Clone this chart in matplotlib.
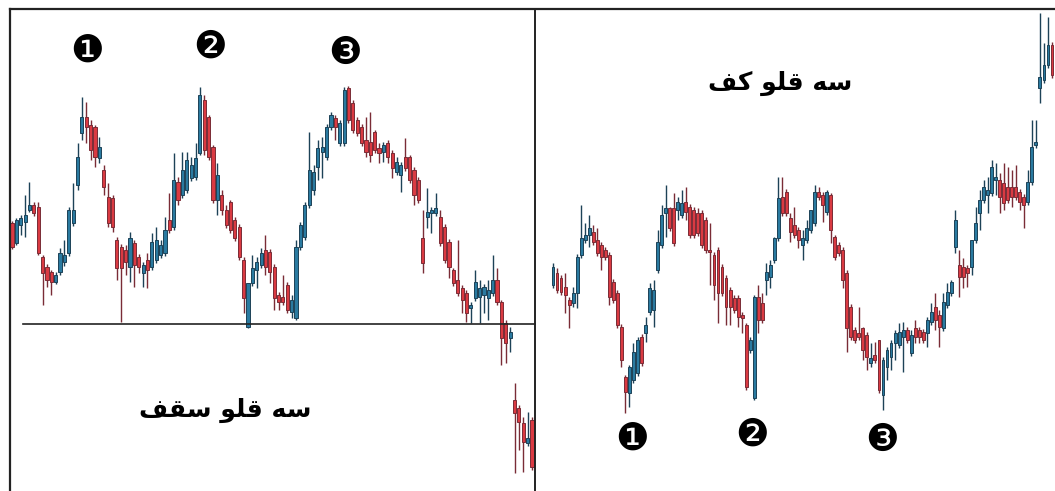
import matplotlib
matplotlib.use("Agg")
import matplotlib.pyplot as plt
import numpy as np

# ---------------- data (values are image depth, top = 0) ----------------
# Left panel: triple top ("سه قلو سقف") - 120 candles
left_open = [
    223, 243, 225, 222, 210, 205, 207, 257, 267, 272,
    282, 272, 262, 253, 223, 185, 133, 117, 125, 127,
    158, 170, 197, 198, 240, 247, 250, 267, 243, 257,
    273, 260, 267, 260, 255, 253, 220, 227, 182, 195,
    190, 178, 177, 153, 100, 117, 147, 200, 195, 210,
    202, 220, 227, 260, 327, 283, 270, 265, 250, 252,
    267, 295, 297, 285, 312, 318, 247, 237, 205, 190,
    167, 152, 157, 127, 118, 143, 143, 88, 103, 120,
    127, 140, 142, 132, 148, 152, 143, 153, 172, 175,
    157, 157, 170, 180, 238, 217, 213, 213, 217, 227,
    242, 270, 280, 288, 293, 308, 298, 297, 295, 298,
    293, 280, 302, 323, 338, 400, 408, 423, 443, 420]
left_close = [
    247, 220, 218, 215, 205, 213, 253, 273, 280, 282,
    275, 253, 255, 210, 210, 157, 117, 127, 150, 157,
    147, 187, 223, 227, 268, 268, 262, 238, 265, 267,
    265, 270, 242, 240, 245, 230, 230, 180, 200, 170,
    160, 165, 158, 95, 150, 157, 200, 175, 210, 225,
    230, 238, 257, 298, 283, 268, 262, 253, 267, 272,
    298, 302, 302, 310, 300, 247, 225, 205, 170, 172,
    148, 147, 127, 115, 127, 123, 90, 120, 130, 133,
    143, 152, 155, 150, 153, 145, 157, 168, 162, 165,
    168, 180, 195, 200, 263, 212, 210, 208, 243, 260,
    267, 283, 293, 300, 313, 305, 282, 288, 287, 290,
    280, 302, 338, 343, 332, 413, 422, 442, 438, 467]
left_high = [
    221, 218, 215, 195, 182, 202, 202, 255, 264, 270,
    272, 248, 240, 207, 183, 143, 97, 102, 120, 125,
    137, 165, 183, 195, 237, 244, 245, 232, 240, 254,
    262, 253, 233, 227, 240, 217, 193, 153, 177, 152,
    152, 157, 143, 87, 95, 115, 145, 163, 190, 205,
    200, 217, 224, 257, 283, 255, 257, 248, 235, 249,
    264, 292, 275, 282, 295, 240, 222, 202, 132, 165,
    140, 137, 124, 112, 115, 120, 87, 86, 100, 117,
    124, 117, 112, 130, 143, 142, 140, 150, 157, 162,
    138, 155, 167, 177, 210, 188, 207, 193, 210, 224,
    239, 268, 240, 285, 290, 302, 270, 280, 284, 280,
    255, 268, 300, 320, 327, 383, 405, 417, 412, 417]
left_low = [
    249, 245, 235, 237, 212, 216, 255, 305, 287, 295,
    284, 275, 266, 256, 226, 190, 140, 143, 160, 167,
    163, 195, 227, 232, 280, 322, 275, 282, 287, 273,
    287, 288, 270, 263, 258, 256, 233, 230, 205, 198,
    193, 181, 180, 155, 155, 160, 203, 215, 215, 228,
    233, 241, 260, 313, 328, 286, 288, 268, 275, 283,
    310, 310, 305, 313, 318, 320, 250, 240, 208, 195,
    180, 178, 160, 130, 140, 146, 146, 123, 133, 136,
    146, 157, 162, 153, 163, 162, 163, 178, 175, 192,
    171, 183, 205, 203, 273, 228, 233, 216, 246, 263,
    278, 286, 296, 313, 322, 323, 301, 323, 313, 320,
    296, 305, 365, 363, 352, 473, 450, 472, 446, 470]

# Right panel: triple bottom ("سه قلو کف") - 125 candles
right_open = [
    285, 273, 278, 287, 300, 303, 293, 255, 240, 235,
    232, 240, 245, 250, 255, 282, 293, 327, 377, 393,
    380, 373, 337, 333, 312, 310, 270, 245, 213, 208,
    208, 210, 215, 202, 207, 210, 213, 213, 220, 250,
    255, 250, 267, 278, 290, 298, 298, 315, 325, 350,
    398, 297, 303, 280, 277, 260, 238, 197, 192, 218,
    225, 230, 245, 240, 230, 223, 192, 195, 212, 195,
    237, 245, 250, 273, 307, 330, 333, 328, 335, 363,
    355, 340, 395, 367, 357, 343, 345, 337, 330, 353,
    328, 330, 332, 333, 322, 307, 315, 328, 305, 293,
    247, 265, 267, 268, 267, 240, 213, 200, 195, 193,
    180, 180, 183, 187, 187, 187, 192, 197, 202, 182,
    145, 88, 80, 65, 45]
right_close = [
    267, 290, 292, 295, 305, 293, 257, 238, 235, 228,
    242, 253, 257, 257, 297, 300, 325, 360, 392, 367,
    352, 340, 363, 325, 288, 290, 242, 215, 208, 228,
    243, 202, 203, 212, 235, 235, 233, 245, 250, 252,
    285, 293, 293, 307, 307, 310, 317, 318, 387, 340,
    297, 320, 320, 272, 265, 238, 198, 213, 213, 232,
    235, 240, 238, 228, 210, 192, 197, 205, 192, 230,
    257, 253, 280, 328, 337, 340, 337, 350, 357, 358,
    360, 390, 360, 350, 343, 333, 332, 330, 340, 335,
    337, 337, 340, 320, 312, 320, 327, 302, 292, 282,
    220, 277, 277, 273, 240, 223, 200, 187, 190, 167,
    177, 197, 203, 200, 197, 197, 202, 205, 182, 147,
    142, 77, 65, 45, 75]
right_high = [
    263, 268, 275, 273, 297, 287, 254, 205, 223, 215,
    225, 228, 242, 247, 252, 279, 290, 324, 375, 365,
    343, 337, 334, 317, 283, 280, 230, 205, 185, 207,
    193, 197, 190, 187, 204, 207, 208, 210, 217, 223,
    252, 247, 264, 275, 287, 295, 295, 312, 323, 337,
    295, 285, 293, 263, 260, 237, 177, 177, 189, 213,
    207, 227, 230, 220, 210, 185, 187, 192, 190, 193,
    235, 242, 247, 270, 304, 327, 307, 327, 332, 343,
    342, 340, 357, 347, 340, 330, 323, 322, 327, 330,
    320, 327, 329, 317, 303, 293, 310, 293, 283, 280,
    210, 250, 258, 265, 240, 207, 190, 180, 177, 160,
    163, 173, 163, 167, 170, 165, 189, 194, 170, 120,
    120, 13, 43, 17, 42]
right_low = [
    288, 293, 295, 313, 328, 307, 308, 258, 243, 247,
    245, 256, 270, 260, 305, 303, 328, 367, 413, 407,
    383, 376, 366, 342, 315, 327, 273, 248, 237, 231,
    246, 220, 218, 220, 238, 238, 236, 248, 253, 285,
    300, 323, 296, 325, 325, 313, 327, 333, 390, 353,
    400, 333, 323, 295, 288, 263, 241, 216, 216, 242,
    238, 248, 260, 243, 233, 226, 200, 222, 215, 243,
    260, 256, 288, 352, 340, 343, 340, 360, 370, 367,
    363, 393, 410, 380, 370, 360, 348, 372, 343, 356,
    343, 343, 343, 347, 325, 330, 347, 331, 308, 296,
    253, 297, 288, 287, 275, 243, 230, 203, 213, 196,
    195, 213, 210, 203, 207, 200, 210, 228, 205, 185,
    148, 103, 83, 68, 78]

top_marks = ["\u2776", "\u2777", "\u2778"]
left_title = "سه قلو سقف"
right_title = "سه قلو کف"

# ---------------- minimal Arabic-script shaping (matplotlib 3.10 has no RTL shaping) ----------------
FORMS = {  # isolated, final, initial, medial
    "س": ("\uFEB1", "\uFEB2", "\uFEB3", "\uFEB4"),
    "ه": ("\uFEE9", "\uFEEA", "\uFEEB", "\uFEEC"),
    "ق": ("\uFED5", "\uFED6", "\uFED7", "\uFED8"),
    "ل": ("\uFEDD", "\uFEDE", "\uFEDF", "\uFEE0"),
    "و": ("\uFEED", "\uFEEE", None, None),
    "ف": ("\uFED1", "\uFED2", "\uFED3", "\uFED4"),
    "ک": ("\uFB8E", "\uFB8F", "\uFB90", "\uFB91"),
}


def shape(text):
    out = []
    n = len(text)
    for i, ch in enumerate(text):
        if ch not in FORMS:
            out.append(ch)
            continue
        f = FORMS[ch]
        prev_j = i > 0 and text[i - 1] in FORMS and FORMS[text[i - 1]][2] is not None
        next_j = i < n - 1 and text[i + 1] in FORMS and f[2] is not None
        if prev_j and next_j:
            out.append(f[3])
        elif prev_j:
            out.append(f[1])
        elif next_j:
            out.append(f[2])
        else:
            out.append(f[0])
    return "".join(reversed(out))


W, H = 1055, 491
fig = plt.figure(figsize=(W / 100, H / 100), dpi=100)
fig.patch.set_facecolor("white")

BLUE, BLUE_E = "#2a7aa0", "#1d4257"
RED, RED_E = "#da3a42", "#7a2c36"


def draw_panel(px0, px1, first_px, last_px, o, c, hi, lo):
    ax = fig.add_axes([px0 / W, 0, (px1 - px0) / W, 1])
    ax.set_axis_off()
    o, c, hi, lo = map(np.asarray, (o, c, hi, lo))
    n = len(o)
    x = np.arange(n)
    ppu = (last_px - first_px) / (n - 1)
    ax.set_xlim(-(first_px - px0) / ppu, (n - 1) + (px1 - last_px) / ppu)
    ax.set_ylim(H, 0)
    up = c < o  # close above open (image depth decreases)
    face = np.where(up, BLUE, RED)
    edge = np.where(up, BLUE_E, RED_E)
    ax.vlines(x, hi, lo, colors=edge, linewidth=1.0, zorder=2)
    body = np.where(np.abs(c - o) < 2, 2, c - o)
    ax.bar(x, body, bottom=o, width=0.72, color=face, edgecolor=edge,
           linewidth=0.7, zorder=3)
    return ax


draw_panel(10, 535, 12, 532, left_open, left_close, left_high, left_low)
draw_panel(535, 1055, 553, 1052, right_open, right_close, right_high, right_low)

# frame, divider and neckline / labels on an overlay axes in pixel units
ov = fig.add_axes([0, 0, 1, 1])
ov.set_xlim(0, W)
ov.set_ylim(H, 0)
ov.set_axis_off()
ov.patch.set_alpha(0)
ov.plot([10, W], [9, 9], color="#222222", lw=1.6)
ov.plot([10, 10], [9, H], color="#222222", lw=1.6)
ov.plot([535, 535], [9, H], color="#222222", lw=1.4)
ov.plot([23, 535], [324, 324], color="#222222", lw=1.2)

for (mx, my), m in zip([(87, 52), (210, 48), (345, 54)], top_marks):
    ov.text(mx, my, m, fontsize=27, ha="center", va="center", color="black",
            family=["DejaVu Sans"])
for (mx, my), m in zip([(632, 440), (752, 436), (882, 441)], top_marks):
    ov.text(mx, my, m, fontsize=27, ha="center", va="center", color="black",
            family=["DejaVu Sans"])

ov.text(225, 410, shape(left_title), fontsize=18, fontweight="bold",
        ha="center", va="center", family=["DejaVu Sans"])
ov.text(780, 83, shape(right_title), fontsize=18, fontweight="bold",
        ha="center", va="center", family=["DejaVu Sans"])

fig.savefig("out.png", dpi=100, facecolor="white")
